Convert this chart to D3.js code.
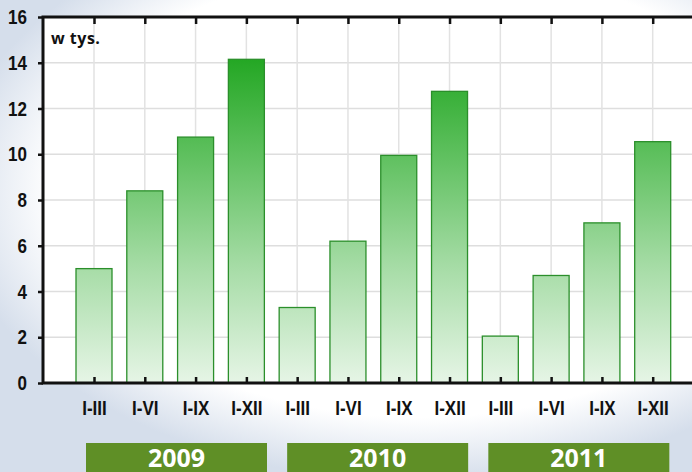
<!DOCTYPE html>
<html lang="pl">
<head>
<meta charset="utf-8">
<title>w tys.</title>
<script src="https://cdn.jsdelivr.net/npm/d3@7/dist/d3.min.js"></script>
<style>
html, body { margin: 0; padding: 0; }
body { width: 692px; height: 472px; overflow: hidden; }
.axis text { font-family: "Liberation Sans", Arial, sans-serif; font-weight: bold; font-size: 17px; fill: #111; }
</style>
</head>
<body>
<script>
// data
var years = ["2009", "2010", "2011"];
var periods = ["I-III", "I-VI", "I-IX", "I-XII"];
var values2009 = [5.0, 8.4, 10.75, 14.15];
var values2010 = [3.3, 6.2, 9.95, 12.75];
var values2011 = [2.05, 4.7, 7.0, 10.55];
var yTicks = [0, 2, 4, 6, 8, 10, 12, 14, 16];

var dataset = [];
[values2009, values2010, values2011].forEach(function(vals, yi) {
    vals.forEach(function(v, pi) {
        dataset.push({ key: years[yi] + " " + periods[pi], year: years[yi], period: periods[pi], value: v });
    });
});

var outer_width = 692, outer_height = 472;
var margin = { top: 17, left: 43, bottom: 383 };

var svg = d3.select("body").append("svg")
    .attr("width", outer_width)
    .attr("height", outer_height);

var defs = svg.append("defs");

// slide background
var bg = defs.append("radialGradient").attr("id", "bg")
    .attr("gradientUnits", "userSpaceOnUse")
    .attr("cx", 420).attr("cy", 190).attr("r", 470)
    .attr("gradientTransform", "translate(420,190) scale(1,0.62) translate(-420,-190)");
bg.append("stop").attr("offset", "0.78").attr("stop-color", "#ffffff");
bg.append("stop").attr("offset", "1").attr("stop-color", "#d5deeb");

svg.append("rect").attr("width", outer_width).attr("height", outer_height).attr("fill", "url(#bg)");

var yScale = d3.scaleLinear().domain([0, 16]).range([margin.bottom, margin.top]);
var xScale = d3.scalePoint()
    .domain(dataset.map(function(d) { return d.key; }))
    .range([94, 652.7]);
var barWidth = 36;

// bar gradient follows the value axis
var grad = defs.append("linearGradient").attr("id", "barGrad")
    .attr("gradientUnits", "userSpaceOnUse")
    .attr("x1", 0).attr("x2", 0)
    .attr("y1", yScale(0)).attr("y2", yScale(14.5));
grad.append("stop").attr("offset", "0").attr("stop-color", "#e6f5e6");
grad.append("stop").attr("offset", "0.35").attr("stop-color", "#a6dca6");
grad.append("stop").attr("offset", "0.7").attr("stop-color", "#5cbf5c");
grad.append("stop").attr("offset", "1").attr("stop-color", "#1fa51f");

// plot area
svg.append("rect")
    .attr("x", margin.left).attr("y", margin.top)
    .attr("width", outer_width - margin.left).attr("height", margin.bottom - margin.top)
    .attr("fill", "#ffffff");

// grid
svg.append("g").selectAll("line.h")
    .data(yTicks.slice(1, -1)).enter().append("line")
    .attr("x1", margin.left).attr("x2", outer_width)
    .attr("y1", function(d) { return yScale(d); }).attr("y2", function(d) { return yScale(d); })
    .attr("stroke", "#dedede").attr("stroke-width", 1.5);
svg.append("g").selectAll("line.v")
    .data(dataset).enter().append("line")
    .attr("x1", function(d) { return xScale(d.key); }).attr("x2", function(d) { return xScale(d.key); })
    .attr("y1", margin.top).attr("y2", margin.bottom)
    .attr("stroke", "#e2e2e2").attr("stroke-width", 1.5);

// bars
svg.append("g").selectAll("rect")
    .data(dataset).enter().append("rect")
    .attr("x", function(d) { return xScale(d.key) - barWidth / 2; })
    .attr("y", function(d) { return yScale(d.value); })
    .attr("width", barWidth)
    .attr("height", function(d) { return yScale(0) - yScale(d.value); })
    .attr("fill", "url(#barGrad)")
    .attr("stroke", "#2b8f2b").attr("stroke-width", 1.3);

// axes (labels are slightly stretched vertically like in the original)
var stretch = 1.17;
var yAxis = d3.axisLeft(yScale).tickValues(yTicks).tickSize(5).tickPadding(11);
var gy = svg.append("g").attr("class", "axis")
    .attr("transform", "translate(" + margin.left + ",0)")
    .call(yAxis);
gy.selectAll("text").attr("dy", null)
    .attr("y", 6.5 / stretch)
    .attr("transform", "scale(1," + stretch + ")");

var xAxis = d3.axisBottom(xScale).tickSize(-6).tickPadding(0)
    .tickFormat(function(k) { return k.split(" ")[1]; });
var gx = svg.append("g").attr("class", "axis")
    .attr("transform", "translate(0," + margin.bottom + ")")
    .call(xAxis);
gx.selectAll("text").attr("dy", null).attr("y", 32 / stretch).attr("transform", "scale(1," + stretch + ")");

var topAxis = d3.axisTop(xScale).tickSize(-7).tickFormat("");
svg.append("g").attr("class", "axis")
    .attr("transform", "translate(0," + margin.top + ")")
    .call(topAxis);

svg.selectAll(".axis .domain").remove();
svg.selectAll(".axis line").attr("stroke", "#111").attr("stroke-width", 2.5);

// frame lines
svg.append("path")
    .attr("d", "M" + outer_width + "," + margin.top + "H" + margin.left + "V" + margin.bottom + "H" + outer_width)
    .attr("fill", "none").attr("stroke", "#111").attr("stroke-width", 3);

// unit label
svg.append("text")
    .attr("x", 51).attr("y", 44)
    .attr("font-family", "'Open Sans', sans-serif").attr("font-weight", "bold")
    .attr("font-size", 16).attr("letter-spacing", 0.5).attr("fill", "#111")
    .text("w tys.");

// year boxes
var yearGroups = svg.append("g").selectAll("g")
    .data(years).enter().append("g")
    .attr("transform", function(y, i) {
        return "translate(" + (xScale(y + " " + periods[0]) - 8 - 2 * i) + ",443)";
    });
yearGroups.append("rect")
    .attr("width", 181).attr("height", 40)
    .attr("fill", "#5f8f26");
yearGroups.append("text")
    .attr("x", 90.5).attr("y", 24)
    .attr("text-anchor", "middle")
    .attr("font-family", "'Open Sans', sans-serif").attr("font-weight", "bold")
    .attr("font-size", 25).attr("fill", "#ffffff")
    .text(function(y) { return y; });
</script>
</body>
</html>
